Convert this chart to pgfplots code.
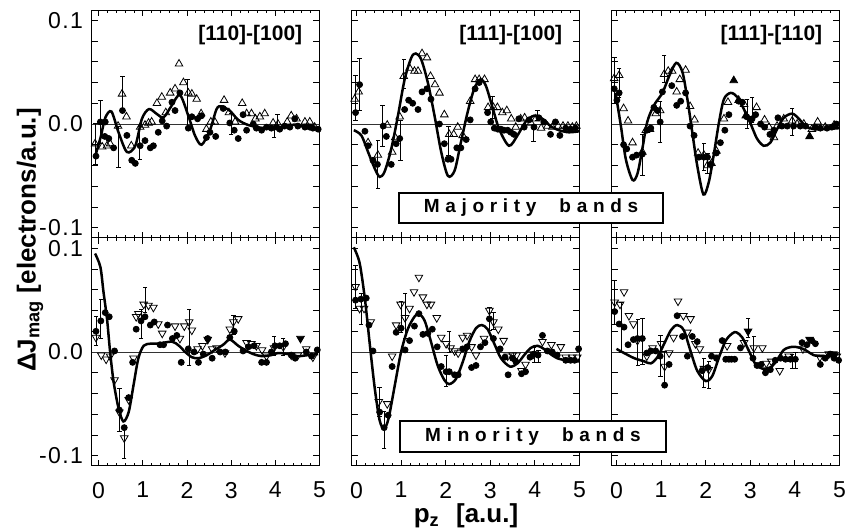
\documentclass[border=0pt]{standalone}
\usepackage{fontspec}
\setmainfont{Liberation Sans}
\newfontfamily\boxfont[LetterSpace=30]{Liberation Sans}
\newfontfamily\tickfont[LetterSpace=6]{Liberation Sans}
\usepackage{pgfplots}
\pgfplotsset{compat=1.18}
\usepgfplotslibrary{groupplots}

% marker styles
\pgfplotsset{
  dot/.style={only marks, mark=*, mark size=1.5pt, black},
  up/.style={only marks, mark=triangle, mark size=2.2pt, mark options={fill=white, draw=black, line width=0.4pt}},
  down/.style={only marks, mark=triangle, mark size=2.2pt, mark options={rotate=180, fill=white, draw=black, line width=0.4pt}},
  fup/.style={only marks, mark=triangle*, mark size=2.2pt, black},
  fdown/.style={only marks, mark=triangle*, mark size=2.2pt, black, mark options={rotate=180}},
  theory/.style={no marks, smooth, line width=1.25pt, black},
  zero/.style={no marks, line width=0.4pt, black!80},
  % error bars: (x,low) (x,high) then a nan to break the line
  eb/.style={black, line width=0.4pt, mark=-, mark size=1.1pt, unbounded coords=jump,
    mark options={solid, line width=0.4pt}},
}

\begin{document}
\begin{tikzpicture}
\begin{groupplot}[
  group style={group name=G, group size=3 by 2, horizontal sep=16.25pt, vertical sep=0pt,
    xticklabels at=edge bottom, yticklabels at=edge left},
  scale only axis, width=113.75pt, height=114pt,
  xmin=-0.1, xmax=5, ymin=-0.11, ymax=0.11,
  xtick={0,1,2,3,4,5}, xticklabels={0,1,2,3,4,5}, minor x tick num=4,
  ytick={-0.1,-0.08,-0.06,-0.04,-0.02,0,0.02,0.04,0.06,0.08,0.1},
  yticklabels={-0.1,,,,,0.0,,,,,0.1},
  major tick length=3pt, minor tick length=1.6pt,
  tick style={line width=0.4pt, black},
  axis line style={line width=0.5pt},
  tick label style={font=\tickfont\fontsize{11.5}{13}\selectfont},
  /pgf/number format/assume math mode=true,
  xticklabel style={yshift=-4.5pt},
  yticklabel style={xshift=-1pt},
  clip=true,
]
% ---------- top left: [110]-[100], majority
\nextgroupplot[xmin=-0.15]
\addplot[zero] coordinates {(-0.2,0) (5.1,0)};
\addplot[theory] coordinates {(-0.07,-0.03) (0.05,-0.012) (0.15,0.006) (0.29,0.012) (0.45,-0.008) (0.64,-0.027) (0.83,-0.021) (0.98,0.005) (1.14,0.0144) (1.32,0.0096) (1.47,0.0064) (1.65,0.0175) (1.84,0.028) (2.03,0.008) (2.18,-0.011) (2.33,-0.020) (2.52,-0.006) (2.67,0.0144) (2.78,0.017) (2.97,0.0128) (3.16,0.004) (3.39,-0.001) (3.76,-0.004) (4.21,-0.003) (4.44,-0.0005) (4.67,-0.003) (5.0,-0.0055)};
\addplot[eb] coordinates {(-0.07,-0.039) (-0.07,0.001) (-0.07,nan) (0.045,-0.019) (0.045,0.023) (0.045,nan) (0.45,-0.042) (0.45,-0.002) (0.45,nan) (0.54,0.014) (0.54,0.046) (0.54,nan) (0.93,-0.034) (0.93,-0.002) (0.93,nan) (2.01,-0.003) (2.01,0.043) (2.01,nan) (3.0,-0.010) (3.0,0.010) (3.0,nan) (3.97,-0.013) (3.97,-0.003) (3.97,nan) (4.05,-0.003) (4.05,0.009)};
\addplot[dot] coordinates {(-0.06,-0.031) (0.04,0.002) (0.15,0.002) (0.14,-0.012) (0.23,-0.014) (0.34,-0.023) (0.54,0.013) (0.64,-0.011) (0.75,-0.035) (0.83,-0.038) (0.94,-0.021) (1.05,-0.016) (1.17,-0.023) (1.24,-0.021) (1.35,-0.008) (1.44,0.003) (1.54,-0.002) (1.66,0.021) (1.73,0.013) (1.84,0.030) (2.03,-0.004) (2.11,0.007) (2.24,0.005) (2.33,0.008) (2.44,-0.013) (2.52,-0.008) (2.65,-0.012) (2.82,0.015) (2.97,0.001) (3.07,-0.006) (3.16,-0.014) (3.27,0.009) (3.35,-0.006) (3.50,0) (3.57,-0.004) (3.69,-0.006) (3.80,-0.003) (3.91,-0.004) (4.03,-0.003) (4.10,-0.005) (4.21,-0.002) (4.33,-0.003) (4.44,0.005) (4.51,-0.002) (4.67,-0.003) (4.78,-0.003) (4.85,-0.004) (4.97,-0.005)};
\addplot[up] coordinates {(-0.08,-0.019) (0.08,-0.022) (0.19,-0.021) (0.26,-0.019) (0.44,-0.002) (0.53,0.029) (0.63,0.007) (0.74,-0.021) (0.94,-0.003) (1.05,-0.001) (1.13,0.001) (1.20,0.002) (1.32,0.020) (1.43,0.026) (1.52,0.011) (1.62,0.030) (1.73,0.034) (1.82,0.058) (1.92,0.040) (2.03,0.030) (2.11,0.029) (2.22,0.024) (2.32,0.010) (2.44,-0.005) (2.54,0.002) (2.63,0.002) (2.84,0.023) (2.95,0.011) (3.09,0.002) (3.25,0.020) (3.35,0.010) (3.46,0.010) (3.55,0.005) (3.65,0.007) (3.76,0.010) (3.95,0.001) (4.06,0) (4.27,0.002) (4.36,0.008) (4.48,0.005) (4.67,0.002) (4.78,0.002) (4.89,-0.003)};
\node[anchor=east, font=\bfseries\fontsize{10.5}{12}\selectfont] at (rel axis cs:0.955,0.89) {[110]-[100]};
% ---------- top middle: [111]-[100], majority
\nextgroupplot
\addplot[zero] coordinates {(-0.2,0) (5.1,0)};
\addplot[theory] coordinates {(-0.06,-0.006) (0.11,-0.011) (0.26,-0.027) (0.41,-0.043) (0.52,-0.051) (0.63,-0.046) (0.78,-0.024) (0.93,0.008) (1.08,0.043) (1.23,0.064) (1.33,0.068) (1.45,0.0625) (1.60,0.040) (1.75,0.008) (1.90,-0.027) (2.05,-0.050) (2.20,-0.045) (2.34,-0.018) (2.49,0.011) (2.64,0.034) (2.78,0.043) (2.90,0.037) (3.05,0.016) (3.20,-0.005) (3.42,-0.021) (3.61,-0.011) (3.79,0.002) (3.98,0.008) (4.17,0.005) (4.35,-0.002) (4.54,-0.006) (4.76,-0.008) (5.0,-0.007)};
\addplot[eb] coordinates {(-0.02,0.003) (-0.02,0.047) (-0.02,nan) (0.07,0.013) (0.07,0.063) (0.07,nan) (0.48,-0.062) (0.48,-0.016) (0.48,nan) (0.58,-0.022) (0.58,0.018) (0.58,nan) (0.99,-0.035) (0.99,0.003) (0.99,nan) (1.06,0.034) (1.06,0.062) (1.06,nan) (2.06,-0.030) (2.06,-0.002) (2.06,nan) (3.05,0.005) (3.05,0.027) (3.05,nan) (3.97,-0.017) (3.97,-0.003) (3.97,nan) (4.06,0.003) (4.06,0.013)};
\addplot[dot] coordinates {(-0.02,0.011) (0.07,0.038) (0.19,-0.007) (0.26,-0.021) (0.37,-0.035) (0.47,-0.039) (0.60,-0.002) (0.67,-0.012) (0.78,-0.039) (0.89,-0.019) (0.97,-0.014) (1.08,0.014) (1.17,0.023) (1.26,0.020) (1.38,0.014) (1.47,0.031) (1.58,0.034) (1.67,0.024) (1.86,0) (1.97,-0.019) (2.05,-0.034) (2.12,-0.034) (2.25,-0.023) (2.34,-0.023) (2.46,-0.015) (2.55,0.004) (2.66,0.034) (2.75,0.040) (2.94,0.011) (3.01,0.002) (3.09,-0.004) (3.17,-0.005) (3.24,-0.005) (3.31,-0.006) (3.39,-0.006) (3.46,-0.008) (3.53,-0.010) (3.64,0.005) (3.76,-0.003) (3.87,0.004) (3.98,-0.003) (4.09,0.006) (4.20,0.002) (4.35,-0.010) (4.46,0.002) (4.56,-0.011) (4.69,-0.004) (4.80,-0.005) (4.91,-0.004)};
\addplot[up] coordinates {(-0.04,0.024) (0.05,0.031) (0.26,-0.018) (0.48,-0.030) (0.69,-0.001) (0.80,-0.027) (0.87,-0.013) (0.97,0.007) (1.06,0.046) (1.19,0.054) (1.30,0.051) (1.38,0.051) (1.47,0.068) (1.58,0.064) (1.66,0.046) (1.76,0.038) (1.86,0.030) (1.97,0.009) (2.08,-0.010) (2.18,-0.010) (2.27,-0.003) (2.38,-0.011) (2.55,0.022) (2.66,0.043) (2.75,0.043) (2.87,0.043) (2.95,0.016) (3.07,0.016) (3.16,0.016) (3.27,0.011) (3.37,0.013) (3.47,0.005) (3.57,-0.003) (3.68,0.005) (3.77,0.006) (3.91,0.001) (4.02,0.005) (4.14,-0.004) (4.28,-0.002) (4.39,-0.003) (4.52,-0.002) (4.63,-0.002) (4.74,-0.002) (4.84,-0.003) (4.93,-0.002)};
\node[anchor=east, font=\bfseries\fontsize{10.5}{12}\selectfont] at (rel axis cs:0.955,0.89) {[111]-[100]};
% ---------- top right: [111]-[110], majority
\nextgroupplot
\addplot[zero] coordinates {(-0.2,0) (5.1,0)};
\addplot[theory] coordinates {(-0.02,0.030) (0.10,-0.002) (0.21,-0.034) (0.36,-0.054) (0.47,-0.048) (0.58,-0.024) (0.69,0.002) (0.84,0.018) (1.03,0.030) (1.18,0.046) (1.34,0.059) (1.48,0.050) (1.59,0.024) (1.70,-0.008) (1.81,-0.040) (1.95,-0.068) (2.07,-0.056) (2.18,-0.030) (2.30,0.002) (2.41,0.024) (2.56,0.030) (2.71,0.026) (2.86,0.014) (3.01,0) (3.15,-0.014) (3.30,-0.021) (3.45,-0.018) (3.60,-0.005) (3.75,0.006) (3.94,0.010) (4.09,0.005) (4.24,-0.002) (4.42,-0.005) (4.65,-0.005) (5.0,-0.004)};
\addplot[eb] coordinates {(-0.04,0.020) (-0.04,0.064) (-0.04,nan) (0.06,0.026) (0.06,0.054) (0.06,nan) (0.58,-0.050) (0.58,-0.010) (0.58,nan) (0.98,-0.018) (0.98,0.022) (0.98,nan) (1.07,0.040) (1.07,0.066) (1.07,nan) (1.96,-0.045) (1.96,-0.019) (1.96,nan) (2.04,-0.048) (2.04,-0.028) (2.04,nan) (2.93,-0.004) (2.93,0.024) (2.93,nan) (3.04,0.002) (3.04,0.026) (3.04,nan) (3.94,-0.011) (3.94,0.015)};
\addplot[dot] coordinates {(-0.05,0.034) (0.01,0.023) (0.06,0.030) (0.16,-0.020) (0.23,-0.024) (0.36,-0.032) (0.45,-0.030) (0.58,-0.029) (0.68,-0.006) (0.77,-0.004) (0.84,0.016) (0.92,0.013) (0.98,0.002) (1.03,0.031) (1.24,0.037) (1.35,0.018) (1.44,0.022) (1.55,0.030) (1.65,-0.002) (1.74,-0.011) (1.85,-0.032) (1.96,-0.032) (2.04,-0.032) (2.11,-0.039) (2.24,-0.028) (2.33,-0.018) (2.43,-0.006) (2.52,0.009) (2.74,0.022) (2.82,0.021) (2.92,0.007) (3.04,0.005) (3.12,0.009) (3.23,0) (3.32,-0.003) (3.44,-0.010) (3.53,-0.006) (3.62,0.006) (3.71,-0.002) (3.83,-0.002) (3.97,-0.002) (4.12,-0.002) (4.24,-0.002) (4.46,-0.003) (4.57,-0.004) (4.72,-0.004) (4.83,-0.003) (4.93,0)};
\addplot[fup] coordinates {(2.63,0.042) (4.33,-0.012) (2.90,0.008)};
\addplot[up] coordinates {(-0.05,0.044) (0.06,0.047) (0.16,0.015) (0.26,0.003) (0.36,-0.018) (0.58,-0.027) (0.66,-0.006) (0.75,-0.005) (0.88,0.010) (0.98,0.013) (1.07,0.048) (1.16,0.051) (1.25,0.051) (1.35,0.031) (1.42,0.043) (1.55,0.052) (1.65,0.017) (1.75,0.004) (1.83,-0.028) (1.96,-0.030) (2.04,-0.040) (2.13,-0.038) (2.24,-0.026) (2.41,0.005) (2.50,0.021) (2.74,0.023) (2.86,0.019) (3.14,0.016) (3.32,0.004) (3.42,-0.003) (3.53,-0.013) (3.60,-0.002) (3.75,0.005) (3.94,0.003) (4.05,0) (4.20,0) (4.38,-0.005) (4.51,0.002) (4.68,-0.003) (4.88,-0.001)};
\node[anchor=east, font=\bfseries\fontsize{10.5}{12}\selectfont] at (rel axis cs:0.955,0.89) {[111]-[110]};
% ---------- bottom left: minority
\nextgroupplot[xmin=-0.15]
\addplot[zero] coordinates {(-0.2,0) (5.1,0)};
\addplot[theory] coordinates {(-0.08,0.095) (0.04,0.082) (0.11,0.058) (0.19,0.032) (0.26,0) (0.34,-0.029) (0.45,-0.054) (0.56,-0.067) (0.68,-0.058) (0.79,-0.032) (0.90,-0.006) (1.02,0.006) (1.17,0.008) (1.35,0.008) (1.66,0.010) (1.82,0.006) (1.96,0) (2.11,-0.005) (2.26,-0.006) (2.45,-0.003) (2.63,0.002) (2.82,0.007) (2.97,0.012) (3.16,0.006) (3.31,0.002) (3.50,-0.002) (3.69,-0.004) (3.91,-0.003) (4.06,-0.001) (4.29,-0.002) (4.51,-0.004) (4.74,-0.003) (4.97,-0.002)};
\addplot[eb] coordinates {(-0.06,0.006) (-0.06,0.034) (-0.06,nan) (0.05,0.013) (0.05,0.051) (0.05,nan) (0.47,-0.077) (0.47,-0.035) (0.47,nan) (0.58,-0.103) (0.58,-0.071) (0.58,nan) (0.96,0.013) (0.96,0.041) (0.96,nan) (1.05,0.038) (1.05,0.062) (1.05,nan) (2.05,-0.013) (2.05,0.041) (2.05,nan) (3.05,0.017) (3.05,0.035) (3.05,nan) (3.97,-0.003) (3.97,0.015) (3.97,nan) (4.18,-0.003) (4.18,0.013)};
\addplot[dot] coordinates {(-0.06,0.020) (0.05,0.030) (0.15,0.038) (0.24,0.034) (0.36,0.001) (0.47,-0.056) (0.58,-0.073) (0.68,-0.044) (0.77,-0.010) (0.85,0.022) (0.96,0.030) (1.05,0.034) (1.17,0.026) (1.26,0.029) (1.39,0.007) (1.47,0.007) (1.56,0.026) (1.67,0.013) (1.77,0.016) (1.87,-0.010) (2.03,0.003) (2.16,0) (2.26,-0.010) (2.37,-0.002) (2.47,0.013) (2.57,-0.006) (2.75,0) (2.87,0) (2.97,0.014) (3.07,0.020) (3.27,0.001) (3.39,0.005) (3.52,0.006) (3.69,-0.010) (3.80,-0.010) (3.91,0) (3.99,0.006) (4.10,0.006) (4.23,0.008) (4.36,-0.003) (4.45,-0.006) (4.70,0) (4.82,-0.004) (4.95,0.002)};
\addplot[fdown] coordinates {(4.57,0.013) (2.47,0.012)};
\addplot[down] coordinates {(-0.06,0.014) (0.06,-0.003) (0.17,-0.007) (0.26,-0.004) (0.36,-0.027) (0.47,-0.058) (0.58,-0.083) (0.68,-0.046) (0.79,-0.006) (0.85,0.034) (0.90,0.037) (1.02,0.046) (1.13,0.045) (1.24,0.043) (1.35,0.027) (1.44,0.018) (1.73,0.025) (1.84,0.013) (1.94,0.025) (2.05,0.029) (2.11,0.021) (2.24,0.003) (2.35,0.006) (2.57,0.003) (2.67,0.004) (2.86,-0.001) (2.97,0.022) (3.05,0.029) (3.16,0.032) (3.35,0.009) (3.46,0.008) (3.57,0.006) (3.70,0.002) (3.80,-0.004) (3.97,0.004) (4.18,0.005) (4.36,-0.003) (4.51,-0.003) (4.70,0.003) (4.85,-0.005)};
% ---------- bottom middle: minority
\nextgroupplot
\addplot[zero] coordinates {(-0.2,0) (5.1,0)};
\addplot[theory] coordinates {(-0.06,0.101) (0.07,0.086) (0.19,0.051) (0.30,0.007) (0.41,-0.035) (0.52,-0.066) (0.62,-0.074) (0.72,-0.064) (0.86,-0.032) (1.00,0) (1.15,0.022) (1.30,0.034) (1.40,0.037) (1.53,0.030) (1.67,0.010) (1.82,-0.013) (1.97,-0.027) (2.08,-0.031) (2.23,-0.026) (2.38,-0.010) (2.53,0.010) (2.68,0.023) (2.81,0.026) (2.94,0.022) (3.09,0.008) (3.24,-0.006) (3.44,-0.014) (3.61,-0.011) (3.76,-0.003) (3.91,0.004) (4.06,0.006) (4.20,0.003) (4.35,-0.002) (4.50,-0.006) (4.69,-0.008) (4.87,-0.009) (5.0,-0.009)};
\addplot[eb] coordinates {(-0.02,0.042) (-0.02,0.084) (-0.02,nan) (0.10,0.027) (0.10,0.057) (0.10,nan) (0.52,-0.062) (0.52,-0.034) (0.52,nan) (0.62,-0.093) (0.62,-0.057) (0.62,nan) (1.00,0.019) (1.00,0.049) (1.00,nan) (1.09,0.013) (1.09,0.057) (1.09,nan) (2.01,-0.033) (2.01,-0.003) (2.01,nan) (2.08,0) (2.08,0.020) (2.08,nan) (2.98,0.021) (2.98,0.043) (2.98,nan) (3.07,0.022) (3.07,0.038) (3.07,nan) (3.98,-0.010) (3.98,0.004) (3.98,nan) (4.08,-0.010) (4.08,0.002)};
\addplot[dot] coordinates {(-0.02,0.050) (0.10,0.051) (0.22,0.052) (0.28,0.026) (0.37,0.001) (0.52,-0.058) (0.62,-0.073) (0.71,-0.061) (0.80,-0.014) (0.89,0.019) (1.00,0.023) (1.09,0.002) (1.19,0.011) (1.30,0.025) (1.40,0.037) (1.49,0.017) (1.60,0.018) (1.70,0.022) (1.81,0.005) (1.90,-0.014) (2.01,-0.019) (2.08,-0.019) (2.20,-0.022) (2.28,-0.022) (2.38,0.003) (2.48,0.005) (2.58,-0.015) (2.68,-0.013) (2.78,0.005) (2.88,0.009) (2.98,0.032) (3.07,0.013) (3.22,0.003) (3.33,-0.005) (3.40,-0.022) (3.50,-0.006) (3.57,-0.009) (3.70,-0.021) (3.79,-0.019) (3.89,-0.005) (3.98,-0.002) (4.07,-0.003) (4.17,0.016) (4.28,0.001) (4.39,0) (4.50,-0.003) (4.69,-0.008) (4.80,-0.008) (4.89,-0.008) (4.98,0.003)};
\addplot[down] coordinates {(-0.02,0.063) (0.07,0.042) (0.17,0.042) (0.32,0.029) (0.50,-0.048) (0.69,-0.050) (0.80,-0.004) (0.89,0.026) (0.99,0.046) (1.09,0.033) (1.19,0.042) (1.29,0.058) (1.40,0.072) (1.49,0.053) (1.58,0.046) (1.67,0.046) (1.80,0.033) (1.90,0.014) (2.01,0.008) (2.11,0.004) (2.20,0.001) (2.28,-0.001) (2.38,0.014) (2.48,0.016) (2.58,0.005) (2.68,-0.003) (2.86,0.013) (2.98,0.040) (3.07,0.029) (3.18,0.022) (3.30,0.011) (3.39,-0.004) (3.50,-0.003) (3.59,-0.003) (3.70,-0.018) (3.79,-0.012) (3.97,-0.002) (4.17,0.010) (4.37,0.007) (4.58,0.005) (4.69,-0.005) (4.84,-0.005) (4.95,-0.005)};
% ---------- bottom right: minority
\nextgroupplot
\addplot[zero] coordinates {(-0.2,0) (5.1,0)};
\addplot[theory] coordinates {(0.0,0.003) (0.17,-0.001) (0.40,-0.006) (0.62,-0.009) (0.77,-0.011) (0.92,-0.005) (1.07,0.008) (1.22,0.021) (1.36,0.026) (1.51,0.021) (1.66,0.001) (1.81,-0.018) (2.00,-0.028) (2.15,-0.023) (2.30,-0.005) (2.45,0.011) (2.60,0.018) (2.69,0.019) (2.82,0.014) (2.97,0.001) (3.12,-0.012) (3.27,-0.016) (3.45,-0.015) (3.60,-0.008) (3.75,0.002) (3.94,0.005) (4.12,0.004) (4.27,0.001) (4.42,-0.003) (4.61,-0.004) (4.79,-0.004) (4.98,-0.002)};
\addplot[eb] coordinates {(-0.04,0.027) (-0.04,0.069) (-0.04,nan) (0.10,0) (0.10,0.048) (0.10,nan) (0.48,-0.013) (0.48,0.031) (0.48,nan) (0.58,-0.012) (0.58,0.032) (0.58,nan) (0.99,-0.024) (0.99,0.016) (0.99,nan) (1.08,-0.033) (1.08,0.001) (1.08,nan) (1.96,-0.034) (1.96,-0.006) (1.96,nan) (2.07,-0.035) (2.07,-0.009) (2.07,nan) (2.95,0.014) (2.95,0.032) (2.95,nan) (3.08,-0.005) (3.08,0.015) (3.08,nan) (3.94,-0.016) (3.94,-0.002) (3.94,nan) (4.01,-0.016) (4.01,0)};
\addplot[dot] coordinates {(-0.04,0.039) (0.06,0.027) (0.17,0.024) (0.26,0.007) (0.38,0.012) (0.47,0.013) (0.58,0.013) (0.68,-0.001) (0.77,0.001) (0.88,0.001) (0.98,-0.004) (1.08,-0.032) (1.18,-0.012) (1.36,0.035) (1.48,0.015) (1.59,-0.004) (1.70,0.015) (1.81,0.010) (1.92,-0.018) (2.05,-0.015) (2.13,-0.004) (2.24,-0.006) (2.37,0.011) (2.45,-0.007) (2.52,-0.007) (2.58,-0.007) (2.65,-0.007) (2.78,0.004) (3.06,-0.006) (3.15,-0.013) (3.24,-0.012) (3.34,-0.020) (3.45,-0.017) (3.56,-0.008) (3.68,-0.006) (3.79,-0.007) (3.90,-0.007) (4.01,-0.007) (4.16,0.009) (4.27,0.007) (4.38,0.011) (4.46,0.008) (4.57,-0.012) (4.68,-0.006) (4.79,-0.002) (4.88,-0.006) (4.98,-0.008)};
\addplot[fdown] coordinates {(2.95,0.020) (4.33,0.012) (4.86,-0.002)};
\addplot[down] coordinates {(-0.04,0.048) (0.08,0.046) (0.17,0.058) (0.28,0.035) (0.38,0.027) (0.47,0.011) (0.68,-0.004) (0.81,0.004) (1.00,0.008) (1.08,-0.014) (1.18,-0.001) (1.28,0.014) (1.38,0.049) (1.50,0.035) (1.59,0.019) (1.66,0.032) (1.77,0.008) (1.87,0.003) (1.96,-0.016) (2.07,-0.017) (2.24,-0.005) (2.48,0.006) (2.86,0.009) (3.08,0.004) (3.27,0.004) (3.36,-0.011) (3.47,-0.009) (3.66,-0.018) (3.86,-0.004) (4.18,0.003) (4.56,-0.005) (4.76,-0.002) (4.94,-0.004)};
\end{groupplot}
% band boxes and axis titles
\node[draw=black, line width=0.8pt, fill=white, minimum width=132pt, minimum height=15pt, inner sep=0pt,
  font=\boxfont\bfseries\fontsize{9.5}{11}\selectfont]
  at ([xshift=219.5pt,yshift=-99pt]G c1r1.north west) {Majority\hspace{6pt} bands};
\node[draw=black, line width=0.8pt, fill=white, minimum width=133pt, minimum height=15.5pt, inner sep=0pt,
  font=\boxfont\bfseries\fontsize{9.5}{11}\selectfont]
  at ([xshift=220.5pt,yshift=-213.25pt]G c1r1.north west) {Minority\hspace{6pt} bands};
\node[rotate=90, font=\bfseries\fontsize{13}{15}\selectfont]
  at ([xshift=-31pt,yshift=-115pt]G c1r1.north west) {ΔJ\textsubscript{mag} [electrons/a.u.]};
\node[font=\bfseries\fontsize{13}{15}\selectfont]
  at ([xshift=187pt,yshift=-253pt]G c1r1.north west) {p\textsubscript{z}\hspace{0.35em} [a.u.]};
\pgfresetboundingbox
\path[use as bounding box] ([xshift=-46pt,yshift=5pt]G c1r1.north west) rectangle ++(423.5pt,-265.5pt);
\end{tikzpicture}
\end{document}
